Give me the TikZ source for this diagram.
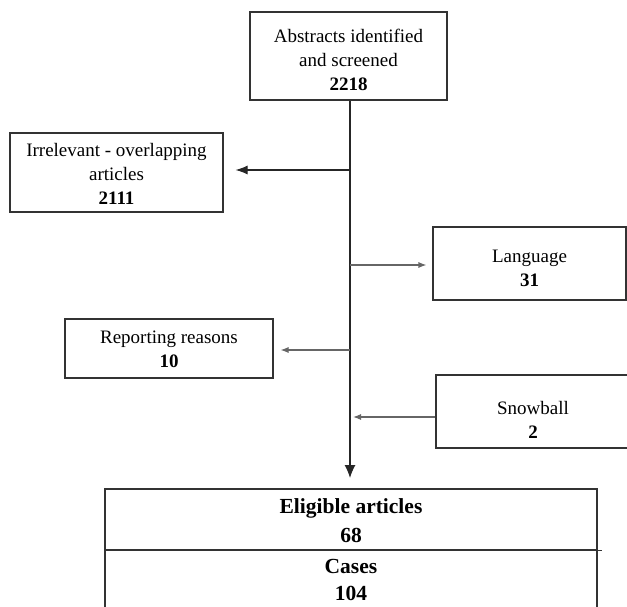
\documentclass[tikz,border=0pt]{standalone}
\usepackage{fontspec}
\setmainfont{Liberation Serif}
\usetikzlibrary{arrows.meta}
\begin{document}
\begin{tikzpicture}[x=1pt,y=-1pt,
  box/.style={draw=black!80,line width=1.1pt,rectangle,inner sep=0pt},
  txt/.style={inner sep=0pt,align=center,font=\fontsize{19}{24}\selectfont},
  bigtxt/.style={inner sep=0pt,align=center,font=\fontsize{21.5}{29}\selectfont\bfseries},
  flow/.style={draw=black!85,line width=1.1pt},
  side/.style={draw=black!60,line width=1.1pt},
  bigtip/.style={-{Latex[length=13pt,width=11pt]}},
  midtip/.style={-{Latex[length=12pt,width=9pt]}},
  smalltip/.style={-{Latex[length=8pt,width=6pt]}}]
\useasboundingbox (0,0) rectangle (627,607);
% boxes
\node[box,minimum width=197pt,minimum height=88pt] (top) at (348.5,56) {};
\node[txt] (topt) at ([yshift=-4pt]top.center)
  {Abstracts identified\\and screened\\\textbf{2218}};
\node[box,minimum width=213pt,minimum height=79pt] (irr) at (116.5,172.5) {};
\node[txt] (irrt) at ([yshift=-1pt]irr.center)
  {Irrelevant - overlapping\\articles\\\textbf{2111}};
\node[box,minimum width=193pt,minimum height=73pt] (lang) at (529.5,263.5) {};
\node[txt] (langt) at ([yshift=-5pt]lang.center) {Language\\\textbf{31}};
\node[box,minimum width=208pt,minimum height=59pt] (rep) at (169,348.5) {};
\node[txt] (rept) at ([yshift=-1pt]rep.center) {Reporting reasons\\\textbf{10}};
\node[box,minimum width=194pt,minimum height=73pt] (snow) at (533,411.5) {};
\node[txt] (snowt) at ([yshift=-8pt]snow.center) {Snowball\\\textbf{2}};
\node[box,minimum width=492pt,minimum height=61pt] (elig) at (351,519.5) {};
\node[bigtxt] (eligt) at ([yshift=-1pt]elig.center) {Eligible articles\\68};
\node[box,minimum width=492pt,minimum height=61pt] (cases) at (351,580.5) {};
\node[bigtxt,font=\fontsize{21.5}{27}\selectfont\bfseries] (casest) at ([yshift=1pt]cases.center) {Cases\\104};
\draw[draw=black!80,line width=1.3pt] (elig.south west) -- ([xshift=4pt]elig.south east);
% junction points on the main line
\coordinate (j1) at (350,170);
\coordinate (j2) at (350,265);
\coordinate (j3) at (350,350);
\coordinate (j4) at (350,417);
\coordinate (end) at (350,478);
% connectors
\draw[flow,bigtip] (top.south -| end) -- (end);
\draw[flow,midtip,shorten >=12pt] (j1) -- (irr.east |- j1);
\draw[side,smalltip,shorten >=6pt] (j2) -- (lang.west |- j2);
\draw[side,smalltip,shorten >=7pt] (j3) -- (rep.east |- j3);
\draw[side,smalltip,shorten >=3pt] (snow.west |- j4) -- (j4);
\end{tikzpicture}
\end{document}
